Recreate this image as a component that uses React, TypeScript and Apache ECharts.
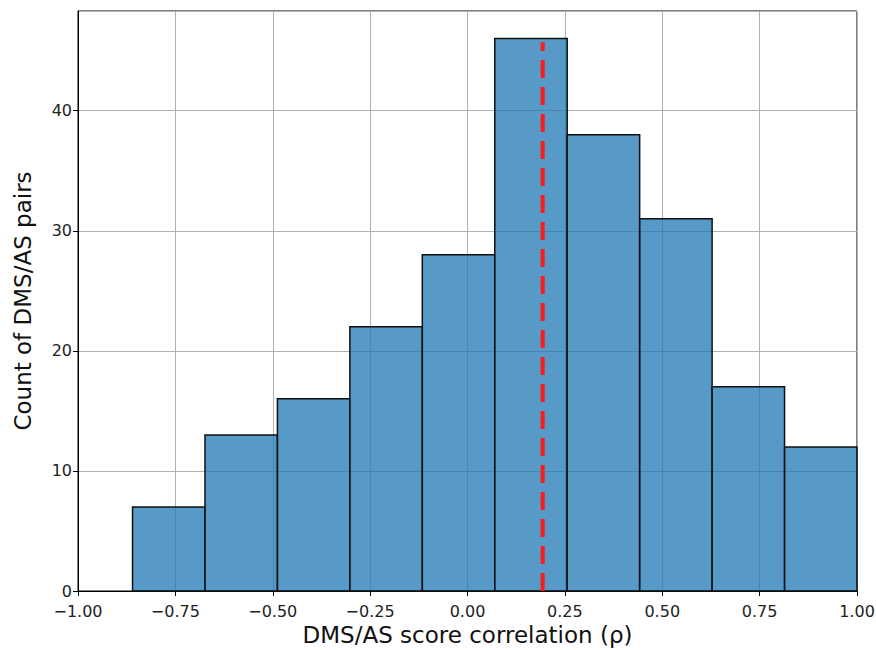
import React, { useEffect, useRef } from "react";
import * as echarts from "echarts";

const binEdges = [-0.86, -0.674, -0.488, -0.302, -0.116, 0.07, 0.256, 0.442, 0.628, 0.814, 1.0];
const counts = [7, 13, 16, 22, 28, 46, 38, 31, 17, 12];
const medianLine = 0.193;
const medianLineTop = 45.7;
const xTitle = "DMS/AS score correlation (ρ)";
const yTitle = "Count of DMS/AS pairs";

export default function App() {
  const ref = useRef<HTMLDivElement>(null);
  useEffect(() => {
    if (!ref.current) return;
    const chart = echarts.init(ref.current, null, { renderer: "svg" });
    const barData = counts.map((c, i) => [binEdges[i], binEdges[i + 1], c]);
    const font = "DejaVu Sans";
    chart.setOption({
      animation: false,
      backgroundColor: "#fff",
      textStyle: { fontFamily: font },
      grid: {
        left: 78,
        right: 19,
        top: 11,
        bottom: 59,
        show: true,
        borderColor: "#000",
        borderWidth: 1,
        containLabel: false,
        outerBoundsMode: "none",
      },
      xAxis: {
        type: "value",
        min: -1,
        max: 1,
        interval: 0.25,
        name: xTitle,
        nameLocation: "middle",
        nameGap: 32,
        nameTextStyle: { fontSize: 23, color: "#111", fontFamily: font },
        axisLine: { show: true, onZero: false, lineStyle: { color: "#000", width: 1 } },
        axisTick: { show: true, length: 5, lineStyle: { color: "#000" } },
        axisLabel: {
          fontSize: 16,
          color: "#222",
          margin: 12,
          formatter: (v: number) => v.toFixed(2).replace("-", "\u2212"),
        },
        splitLine: { show: true, lineStyle: { color: "#b0b0b0", width: 1 } },
      },
      yAxis: {
        type: "value",
        min: 0,
        max: 48.3,
        interval: 10,
        name: yTitle,
        nameLocation: "middle",
        nameGap: 44,
        nameTextStyle: { fontSize: 23, color: "#111", fontFamily: font },
        axisLine: { show: true, onZero: false, lineStyle: { color: "#000", width: 1 } },
        axisTick: { show: true, length: 5, lineStyle: { color: "#000" } },
        axisLabel: { fontSize: 16, color: "#222", margin: 6, showMaxLabel: false },
        splitLine: { show: true, lineStyle: { color: "#b0b0b0", width: 1 } },
      },
      series: [
        {
          type: "custom",
          data: barData,
          encode: { x: [0, 1], y: 2 },
          renderItem: (params: any, api: any) => {
            const p0 = api.coord([api.value(0), api.value(2)]);
            const p1 = api.coord([api.value(1), 0]);
            return {
              type: "rect",
              shape: { x: p0[0], y: p0[1], width: p1[0] - p0[0], height: p1[1] - p0[1] },
              style: {
                fill: "rgba(31,119,180,0.75)",
                stroke: "#111",
                lineWidth: 1.5,
              },
            };
          },
          z: 2,
        },
        {
          type: "line",
          data: [
            [medianLine, 0],
            [medianLine, medianLineTop],
          ],
          symbol: "none",
          lineStyle: { color: "#ff1a1a", width: 4, type: [18, 9] },
          z: 3,
        },
      ],
    });
    return () => chart.dispose();
  }, []);
  return (
    <div
      ref={ref}
      style={{ position: "fixed", left: 0, top: 0, width: 876, height: 650, background: "#fff" }}
    />
  );
}
